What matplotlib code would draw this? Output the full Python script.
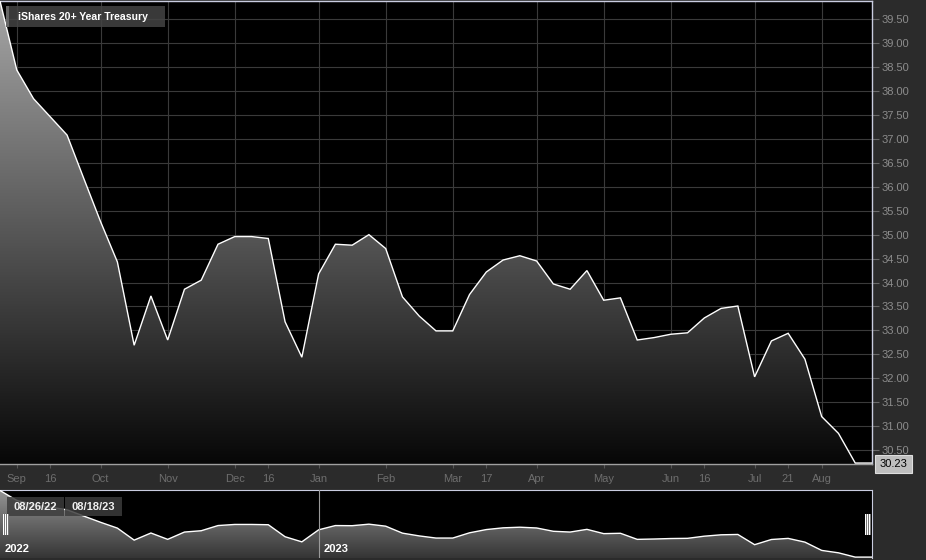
import numpy as np
import matplotlib as mpl
mpl.use("Agg")
import matplotlib.pyplot as plt
from matplotlib.colors import LinearSegmentedColormap
from matplotlib.patches import Polygon, Rectangle

plt.rcParams['font.family'] = ['Liberation Sans', 'DejaVu Sans']

# weekly closes, 08/26/22 .. 08/18/23 (last value carried to the edge)
prices = [39.88, 38.44, 37.84, 37.46, 37.08, 36.17, 35.27, 34.43, 32.69, 33.72,
          32.80, 33.86, 34.05, 34.80, 34.96, 34.96, 34.92, 33.18, 32.44, 34.18,
          34.80, 34.78, 35.00, 34.71, 33.70, 33.30, 32.99, 32.99, 33.75, 34.22,
          34.47, 34.56, 34.45, 33.97, 33.86, 34.25, 33.63, 33.68, 32.80, 32.85,
          32.92, 32.95, 33.26, 33.46, 33.51, 32.03, 32.78, 32.94, 32.40, 31.20,
          30.85, 30.23, 30.23]
month_idx = [1, 6, 10, 14, 19, 23, 27, 32, 36, 40, 45, 49]
month_lbl = ['Sep', 'Oct', 'Nov', 'Dec', 'Jan', 'Feb', 'Mar', 'Apr', 'May', 'Jun', 'Jul', 'Aug']
mid_idx = [3, 16, 29, 42, 47]
mid_lbl = ['16', '16', '17', '16', '21']
year_idx = [0, 19]
year_lbl = ['2022', '2023']
range_lbl = ['08/26/22', '08/18/23']
series_name = 'iShares 20+ Year Treasury'
last_price = prices[-1]

W, H = 926, 560
BG = '#2b2b2b'
EDGE = '#c9cce0'
FS = 8

def fx(px):
    return px / W

def fy(py):
    return 1 - py / H

x = np.arange(len(prices))
y = np.array(prices)

fig = plt.figure(figsize=(W / 100, H / 100), dpi=100, facecolor=BG)


def gradient_area(ax, lo, hi, ybot, ytop):
    cmap = LinearSegmentedColormap.from_list('g', [lo, hi])
    verts = [(x[0], ybot)] + list(zip(x, y)) + [(x[-1], ybot)]
    poly = Polygon(verts, closed=True, facecolor='none', edgecolor='none')
    ax.add_patch(poly)
    grad = np.linspace(1, 0, 256).reshape(-1, 1)
    im = ax.imshow(grad, extent=[x[0], x[-1], ybot, ytop], aspect='auto',
                   cmap=cmap, origin='upper', zorder=1, interpolation='bicubic')
    im.set_clip_path(poly)
    ax.plot(x, y, color='white', lw=1.0, zorder=3, solid_joinstyle='miter')


# ---- main chart ----
ax = fig.add_axes([0, fy(464), fx(872), (464 - 1) / H])
ax.set_facecolor('black')
ylo, yhi = 30.21, 39.88
gradient_area(ax, '#070707', '#a6a6a6', ylo, yhi)
ax.set_xlim(x[0], x[-1])
ax.set_ylim(ylo, yhi)

ax.yaxis.tick_right()
yt = np.arange(30.5, 39.51, 0.5)
ax.set_yticks(yt, ['%.2f' % v for v in yt])
ax.set_xticks(month_idx, month_lbl)
ax.set_xticks(mid_idx, mid_lbl, minor=True)
ax.tick_params(axis='y', length=5, width=0.8, color='#6a6a6a', labelcolor='#8c8c8c',
               labelsize=FS, pad=2)
ax.tick_params(axis='x', which='both', length=3, width=0.8, color='#555555',
               labelcolor='#6e6e6e', labelsize=FS, pad=4)
ax.grid(True, which='major', color='#3a3a3a', lw=0.8)
ax.set_axisbelow(True)
ax.spines['left'].set_visible(False)
ax.spines['top'].set_color(EDGE)
ax.spines['right'].set_color(EDGE)
ax.spines['bottom'].set_color('#a0a0a0')
for s in ['top', 'right', 'bottom']:
    ax.spines[s].set_linewidth(1.0)

# series name box
fig.add_artist(Rectangle((fx(6), fy(27)), fx(159), 21 / H, transform=fig.transFigure,
                         facecolor='#444444', edgecolor='none', alpha=0.85, zorder=5))
fig.add_artist(Rectangle((fx(6), fy(27)), fx(3), 21 / H, transform=fig.transFigure,
                         facecolor='#666666', edgecolor='none', zorder=6))
fig.text(fx(18), fy(16.5), series_name, color='white', fontsize=7.6, fontweight='bold',
         va='center', ha='left', zorder=7)

# last price box
fig.add_artist(Rectangle((fx(875), fy(473)), fx(37), 18 / H, transform=fig.transFigure,
                         facecolor='#bebebe', edgecolor='#dedede', lw=0.8, zorder=5))
fig.text(fx(893.5), fy(464), '%.2f' % last_price, color='black', fontsize=FS,
         va='center', ha='center', zorder=6)

# ---- navigator ----
nav = fig.add_axes([0, fy(558), fx(872), (558 - 490) / H])
nav.set_facecolor('black')
nlo, nhi = 30.1, 39.95
gradient_area(nav, '#353535', '#959595', nlo, nhi)
nav.set_xlim(x[0], x[-1])
nav.set_ylim(nlo, nhi)
nav.set_xticks([])
nav.set_yticks([])
nav.spines['left'].set_visible(False)
nav.spines['bottom'].set_visible(False)
nav.spines['top'].set_color(EDGE)
nav.spines['right'].set_color(EDGE)
nav.axvline(year_idx[1], color='#9a9a9a', lw=0.8, zorder=4)
for i, lbl in zip(year_idx, year_lbl):
    nav.annotate(lbl, (i, nlo), xytext=(5, 4), textcoords='offset pixels',
                 color='white', fontsize=FS, fontweight='bold', ha='left', va='bottom',
                 zorder=6)

# range date boxes
for k, lbl in enumerate(range_lbl):
    x0 = 7 + k * 58
    fig.add_artist(Rectangle((fx(x0), fy(516)), fx(57), 19 / H, transform=fig.transFigure,
                             facecolor='#3c3c3c', edgecolor='none', alpha=0.85, zorder=5))
    fig.text(fx(x0 + 28.5), fy(506.5), lbl, color='#f0f0f0', fontsize=FS,
             fontweight='bold', ha='center', va='center', zorder=6)

# navigator handles
for hx in [3, 865]:
    fig.add_artist(Rectangle((fx(hx), fy(535)), fx(6), 21 / H, transform=fig.transFigure,
                             facecolor='#777777', edgecolor='none', zorder=5))
    for j in range(3):
        fig.add_artist(Rectangle((fx(hx + 2 * j), fy(535)), fx(1.2), 21 / H,
                                 transform=fig.transFigure, facecolor='white',
                                 edgecolor='none', zorder=6))

fig.savefig('out.png', dpi=100, facecolor=BG)
